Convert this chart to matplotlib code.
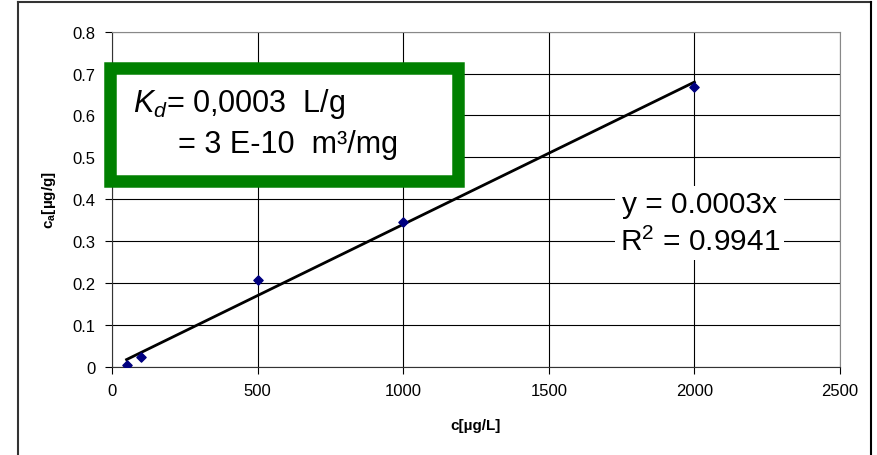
import matplotlib
matplotlib.use('Agg')
import matplotlib.pyplot as plt
from matplotlib.patches import Rectangle
from matplotlib.lines import Line2D
import numpy as np

plt.rcParams['font.family'] = ['Liberation Sans', 'DejaVu Sans']
plt.rcParams['mathtext.fontset'] = 'custom'
plt.rcParams['mathtext.rm'] = 'Liberation Sans'
plt.rcParams['mathtext.it'] = 'Liberation Sans:italic'

# measured data
c = np.array([50, 100, 500, 1000, 2000])          # c [ug/L]
ca = np.array([0.005, 0.022, 0.208, 0.346, 0.668])  # ca [ug/g]

xticks = [0, 500, 1000, 1500, 2000, 2500]
yticks = [0, 0.1, 0.2, 0.3, 0.4, 0.5, 0.6, 0.7, 0.8]

# linear fit through origin (Excel trendline)
slope = np.sum(c * ca) / np.sum(c * c)
xfit = np.array([c.min(), c.max()])
yfit = slope * xfit

fig = plt.figure(figsize=(8.78, 4.56), dpi=100)
W, H = 878, 456

# outer chart border
fig.add_artist(Line2D([18/W, 18/W], [0, 1 - 3/H], transform=fig.transFigure, color='#333333', lw=1.5))
fig.add_artist(Line2D([18/W, 871/W], [1 - 3/H, 1 - 3/H], transform=fig.transFigure, color='#333333', lw=1.5))
fig.add_artist(Line2D([871/W, 871/W], [0, 1 - 3/H], transform=fig.transFigure, color='black', lw=1.5))

ax = fig.add_axes([112/W, 1 - 367.7/H, (840 - 112)/W, (367.7 - 32.7)/H])
ax.set_xlim(0, 2500)
ax.set_ylim(0, 0.8)
ax.set_xticks(xticks)
ax.set_yticks(yticks)
ax.set_xticklabels([str(v) for v in xticks])
ax.set_yticklabels(['0' if v == 0 else '%.1f' % v for v in yticks])
ax.tick_params(direction='out', length=5, width=0.8, labelsize=12, pad=7)
ax.grid(True, color='black', lw=0.8)
ax.set_axisbelow(True)
for s in ['top', 'right']:
    ax.spines[s].set_color('#888888')
for s in ['left', 'bottom']:
    ax.spines[s].set_color('#333333')

ax.plot(xfit, yfit, color='black', lw=2, zorder=3)
ax.scatter(c, ca, marker='D', s=22, color='#000080', zorder=4)

ax.set_xlabel('c[µg/L]', fontsize=11, fontweight='bold', labelpad=14)
ax.set_ylabel(r'c$_\mathregular{a}$[µg/g]', fontsize=11, fontweight='bold', labelpad=10)

# trendline equation
ax.text(2018, 0.343, 'y = 0.0003x\nR$^2$ = 0.9941', fontsize=21.5, ha='center', va='center',
        linespacing=1.4, bbox=dict(facecolor='white', edgecolor='none', pad=3), zorder=5)

# Kd box
fig.add_artist(Rectangle((110/W, 1 - 182/H), 348/W, 113/H, transform=fig.transFigure,
                         facecolor='white', edgecolor='#008000', lw=9, zorder=6))
fig.text(133/W, 1 - 112/H, r'$K_d$= 0,0003  L/g', fontsize=22, ha='left', va='baseline', zorder=7)
fig.text(178/W, 1 - 153/H, '= 3 E-10  m³/mg', fontsize=22, ha='left', va='baseline', zorder=7)

fig.savefig('out.png', dpi=100)
